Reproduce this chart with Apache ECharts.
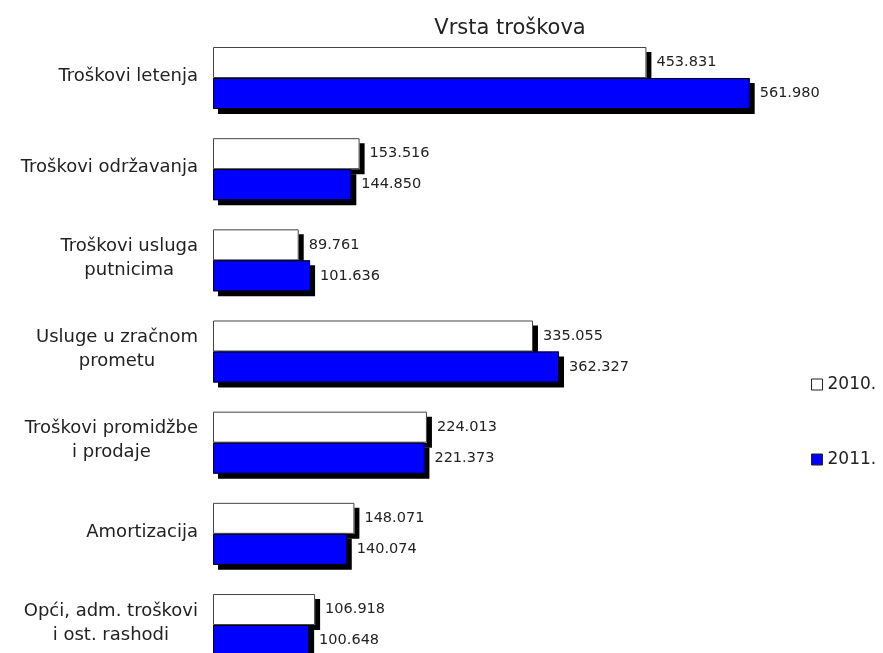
<!DOCTYPE html>
<html>
<head>
<meta charset="utf-8">
<title>Vrsta troškova</title>
<script src="https://cdn.jsdelivr.net/npm/echarts@6/dist/echarts.min.js"></script>
<style>
  html, body { margin: 0; padding: 0; background: #fff; }
  #chart { width: 883px; height: 653px; }
</style>
</head>
<body>
<div id="chart"></div>
<script>
// podaci
var categories = [
  "Troškovi letenja",
  "Troškovi održavanja",
  "Troškovi usluga\nputnicima",
  "Usluge u zračnom\nprometu",
  "Troškovi promidžbe\ni prodaje",
  "Amortizacija",
  "Opći, adm. troškovi\ni ost. rashodi"
];
var values2010 = [453.831, 153.516, 89.761, 335.055, 224.013, 148.071, 106.918];
var values2011 = [561.980, 144.850, 101.636, 362.327, 221.373, 140.074, 100.648];
var seriesNames = ["2010.", "2011."];

var fontFam = "'DejaVu Sans', sans-serif";

var chart = echarts.init(document.getElementById("chart"));

// sjena ide samo na ispunu (grid 0), obrub se crta preko u gridu 1
var barShadow = {
  shadowColor: "#000",
  shadowBlur: 0,
  shadowOffsetX: 5,
  shadowOffsetY: 5
};

function valueLabel() {
  return {
    show: true,
    position: "right",
    distance: 10,
    color: "#222",
    fontFamily: fontFam,
    fontSize: 14.5,
    formatter: function (p) { return p.value.toFixed(3); }
  };
}

// sredista kategorija idu na rubove grida (boundaryGap: false)
var gridBox = { left: 213, top: 78, width: 573, height: 547 };

function xAx(i) {
  return { type: "value", gridIndex: i, min: 0, max: 600, show: false };
}

var option = {
  animation: false,
  title: {
    text: "Vrsta troškova",
    left: 505,
    top: 13,
    textAlign: "center",
    textStyle: { fontFamily: fontFam, fontSize: 21, fontWeight: "normal", color: "#222" }
  },
  legend: {
    orient: "vertical",
    left: 806,
    top: 371,
    itemWidth: 11,
    itemHeight: 11,
    itemGap: 58,
    icon: "rect",
    data: seriesNames,
    itemStyle: { borderColor: "#222", borderWidth: 1, shadowBlur: 0, shadowOffsetX: 0, shadowOffsetY: 0, shadowColor: "transparent" },
    textStyle: { fontFamily: fontFam, fontSize: 17, color: "#222" }
  },
  grid: [gridBox, gridBox],
  xAxis: [xAx(0), xAx(1)],
  yAxis: [
    {
      type: "category",
      gridIndex: 0,
      inverse: true,
      boundaryGap: false,
      data: categories,
      axisLine: { show: false },
      axisTick: { show: false },
      splitLine: { show: false },
      axisLabel: {
        margin: 15,
        align: "right",
        formatter: function (v) {
          return v.split("\n").map(function (l) { return "{c|" + l + "}"; }).join("\n");
        },
        rich: {
          c: { align: "center", fontFamily: fontFam, fontSize: 18, color: "#222", lineHeight: 24, padding: [0, 0, 4, 0] }
        }
      }
    },
    {
      type: "category",
      gridIndex: 1,
      inverse: true,
      boundaryGap: false,
      data: categories,
      show: false
    }
  ],
  series: [
    {
      name: seriesNames[0],
      type: "bar",
      xAxisIndex: 0, yAxisIndex: 0,
      data: values2010,
      barWidth: 31,
      barGap: "0%",
      clip: false,
      itemStyle: Object.assign({ color: "#fff" }, barShadow),
      emphasis: { disabled: true }
    },
    {
      name: seriesNames[1],
      type: "bar",
      xAxisIndex: 0, yAxisIndex: 0,
      data: values2011,
      barWidth: 31,
      barGap: "0%",
      clip: false,
      itemStyle: Object.assign({ color: "#0000ff" }, barShadow),
      emphasis: { disabled: true }
    },
    {
      name: seriesNames[0],
      type: "bar",
      xAxisIndex: 1, yAxisIndex: 1,
      data: values2010,
      barWidth: 31,
      barGap: "0%",
      clip: false,
      itemStyle: { color: "rgba(0,0,0,0)", borderColor: "#444", borderWidth: 1 },
      label: valueLabel(),
      emphasis: { disabled: true }
    },
    {
      name: seriesNames[1],
      type: "bar",
      xAxisIndex: 1, yAxisIndex: 1,
      data: values2011,
      barWidth: 31,
      barGap: "0%",
      clip: false,
      itemStyle: { color: "rgba(0,0,0,0)", borderColor: "#000", borderWidth: 1 },
      label: valueLabel(),
      emphasis: { disabled: true }
    }
  ]
};

chart.setOption(option);
</script>
</body>
</html>
